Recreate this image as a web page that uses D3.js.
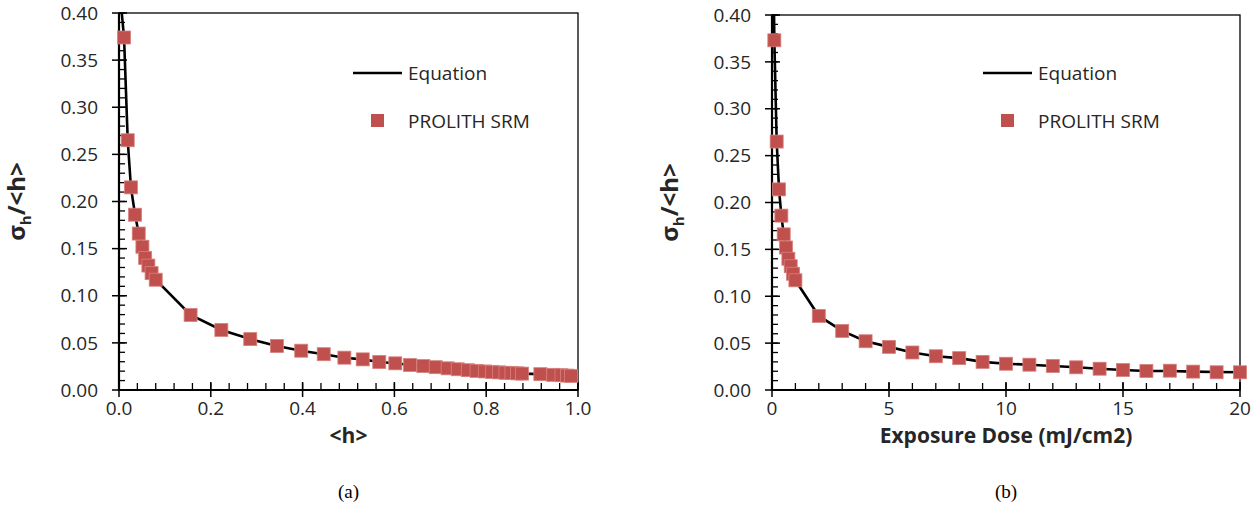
<!DOCTYPE html>
<html>
<head>
<meta charset="utf-8">
<script src="https://cdn.jsdelivr.net/npm/d3@7"></script>
<style>
  body { margin: 0; background: #fff; }
  text { font-family: "Open Sans", sans-serif; fill: #262626; }
</style>
</head>
<body>
<script>

// panel (a): sigma_h/<h> versus <h>
const hValues = [0.011, 0.019, 0.026, 0.035, 0.043, 0.051, 0.057, 0.064, 0.071, 0.080,
  0.156, 0.223, 0.286, 0.344, 0.397, 0.446, 0.491, 0.531, 0.567, 0.602, 0.634, 0.663,
  0.690, 0.716, 0.738, 0.760, 0.779, 0.797, 0.813, 0.828, 0.842, 0.855, 0.867, 0.878,
  0.918, 0.946, 0.964, 0.976, 0.985];
const hRatio = [0.374, 0.265, 0.215, 0.186, 0.166, 0.152, 0.140, 0.132, 0.124, 0.117,
  0.0796, 0.0637, 0.054, 0.0467, 0.0417, 0.038, 0.0343, 0.0325, 0.0297, 0.0283, 0.0265, 0.0254,
  0.0242, 0.0230, 0.0220, 0.0210, 0.0203, 0.0197, 0.0192, 0.0187, 0.0183, 0.0180, 0.0177, 0.0174,
  0.0168, 0.0161, 0.0157, 0.0153, 0.0150];
// equation curve (a)
const eqH = [0.006, 0.011, 0.019, 0.026, 0.035, 0.043, 0.051, 0.057, 0.064, 0.071, 0.080,
  0.156, 0.223, 0.286, 0.344, 0.397, 0.446, 0.491, 0.531, 0.567, 0.602, 0.634, 0.663,
  0.690, 0.716, 0.738, 0.760, 0.779, 0.797, 0.813, 0.828, 0.842, 0.855, 0.867, 0.878,
  0.918, 0.946, 0.964, 0.976, 0.985];
const eqHRatio = [0.40, 0.374, 0.265, 0.215, 0.186, 0.166, 0.152, 0.140, 0.132, 0.124, 0.117,
  0.0796, 0.0637, 0.054, 0.0467, 0.0417, 0.038, 0.0343, 0.0325, 0.0297, 0.0283, 0.0265, 0.0254,
  0.0242, 0.0230, 0.0220, 0.0210, 0.0203, 0.0197, 0.0192, 0.0187, 0.0183, 0.0180, 0.0177, 0.0174,
  0.0168, 0.0161, 0.0157, 0.0153, 0.0150];

// panel (b): sigma_h/<h> versus exposure dose
const doseValues = [0.1, 0.2, 0.3, 0.4, 0.5, 0.6, 0.7, 0.8, 0.9, 1.0,
  2, 3, 4, 5, 6, 7, 8, 9, 10, 11, 12, 13, 14, 15, 16, 17, 18, 19, 20];
const doseRatio = [0.373, 0.265, 0.214, 0.186, 0.166, 0.152, 0.140, 0.132, 0.124, 0.117,
  0.079, 0.063, 0.052, 0.046, 0.040, 0.036, 0.034, 0.030, 0.028, 0.027,
  0.0256, 0.0242, 0.0227, 0.0213, 0.0203, 0.0206, 0.0196, 0.0189, 0.0189];
// equation curve (b)
const eqDose = [0.087, 0.1, 0.2, 0.3, 0.4, 0.5, 0.6, 0.7, 0.8, 0.9, 1.0,
  2, 3, 4, 5, 6, 7, 8, 9, 10, 11, 12, 13, 14, 15, 16, 17, 18, 19, 20];
const eqDoseRatio = [0.40, 0.373, 0.265, 0.214, 0.186, 0.166, 0.152, 0.140, 0.132, 0.124, 0.117,
  0.079, 0.063, 0.052, 0.046, 0.040, 0.036, 0.034, 0.030, 0.028, 0.027,
  0.0256, 0.0242, 0.0227, 0.0213, 0.0203, 0.0202, 0.0196, 0.0192, 0.0189];

// tick labels
const yTicks = [0, 0.05, 0.10, 0.15, 0.20, 0.25, 0.30, 0.35, 0.40];
const hTicks = [0, 0.2, 0.4, 0.6, 0.8, 1.0];
const doseTicks = [0, 5, 10, 15, 20];

const seriesNames = ["Equation", "PROLITH SRM"];
const markerColor = "#c0504d";

const width = 1260, height = 511;
const svg = d3.select("body").append("svg")
  .attr("width", width)
  .attr("height", height);

const panels = [
  { id: "a", left: 119, right: 578, top: 13, bottom: 390,
    xDomain: [0, 1], xTicks: hTicks, xFormat: d3.format(".1f"), xMinor: 0.04,
    pts: hValues.map((x, i) => [x, hRatio[i]]),
    eq: eqH.map((x, i) => [x, eqHRatio[i]]),
    xTitle: "<h>", caption: "(a)", legX: 353 },
  { id: "b", left: 772, right: 1240, top: 15, bottom: 390,
    xDomain: [0, 20], xTicks: doseTicks, xFormat: d3.format("d"), xMinor: 1,
    pts: doseValues.map((x, i) => [x, doseRatio[i]]),
    eq: eqDose.map((x, i) => [x, eqDoseRatio[i]]),
    xTitle: "Exposure Dose (mJ/cm2)", caption: "(b)", legX: 983 }
];

panels.forEach(function(p) {
  const x = d3.scaleLinear().domain(p.xDomain).range([p.left, p.right]);
  const y = d3.scaleLinear().domain([0, 0.4]).range([p.bottom, p.top]);
  const g = svg.append("g");

  // plot area border (top / right)
  g.append("rect")
    .attr("x", p.left).attr("y", p.top)
    .attr("width", p.right - p.left).attr("height", p.bottom - p.top)
    .attr("fill", "none").attr("stroke", "#000").attr("stroke-width", 1.3);

  // minor ticks, inside
  const yMinor = d3.range(0, 0.4001, 0.01);
  g.selectAll(".yminor").data(yMinor).enter().append("line")
    .attr("x1", p.left).attr("x2", p.left + 6)
    .attr("y1", d => y(d)).attr("y2", d => y(d))
    .attr("stroke", "#000").attr("stroke-width", 1.3);
  const xMinor = d3.range(p.xDomain[0], p.xDomain[1] + p.xMinor / 2, p.xMinor);
  g.selectAll(".xminor").data(xMinor).enter().append("line")
    .attr("x1", d => x(d)).attr("x2", d => x(d))
    .attr("y1", p.bottom).attr("y2", p.bottom - 7)
    .attr("stroke", "#000").attr("stroke-width", 1.3);

  // major ticks, crossing
  g.selectAll(".ymajor").data(yTicks).enter().append("line")
    .attr("x1", p.left - 7).attr("x2", p.left + 8)
    .attr("y1", d => y(d)).attr("y2", d => y(d))
    .attr("stroke", "#000").attr("stroke-width", 1.5);
  g.selectAll(".xmajor").data(p.xTicks).enter().append("line")
    .attr("x1", d => x(d)).attr("x2", d => x(d))
    .attr("y1", p.bottom - 8).attr("y2", p.bottom + 7)
    .attr("stroke", "#000").attr("stroke-width", 1.5);

  // axis lines
  g.append("line").attr("x1", p.left).attr("x2", p.left)
    .attr("y1", p.top).attr("y2", p.bottom + 1)
    .attr("stroke", "#000").attr("stroke-width", 2.2);
  g.append("line").attr("x1", p.left - 1).attr("x2", p.right)
    .attr("y1", p.bottom).attr("y2", p.bottom)
    .attr("stroke", "#000").attr("stroke-width", 2.2);

  // tick labels
  g.selectAll(".ylab").data(yTicks).enter().append("text")
    .attr("x", p.left - 21).attr("y", d => y(d))
    .attr("dy", "0.35em").attr("text-anchor", "end")
    .style("font-size", "19px")
    .text(d => d3.format(".2f")(d));
  g.selectAll(".xlab").data(p.xTicks).enter().append("text")
    .attr("x", d => x(d)).attr("y", p.bottom + 25)
    .attr("text-anchor", "middle")
    .style("font-size", "19px")
    .text(d => p.xFormat(d));

  // axis titles
  const yt = g.append("text")
    .attr("transform", "translate(" + (p.left - 94) + "," + ((p.top + p.bottom) / 2) + ") rotate(-90)")
    .attr("text-anchor", "middle")
    .style("font-size", "24px").style("font-weight", "bold");
  yt.append("tspan").text("σ");
  yt.append("tspan").attr("dy", 6).style("font-size", "15px").text("h");
  yt.append("tspan").attr("dy", -6).text("/<h>");

  g.append("text")
    .attr("x", (p.left + p.right) / 2).attr("y", p.bottom + 53)
    .attr("text-anchor", "middle")
    .style("font-size", "21px").style("font-weight", "bold")
    .text(p.xTitle);

  g.append("text")
    .attr("x", (p.left + p.right) / 2).attr("y", p.bottom + 108)
    .attr("text-anchor", "middle")
    .style("font-family", "'Liberation Serif', serif").style("font-size", "19px").style("fill", "#000")
    .text(p.caption);

  // clip for curve
  svg.append("clipPath").attr("id", "clip-" + p.id)
    .append("rect")
    .attr("x", p.left).attr("y", p.top)
    .attr("width", p.right - p.left).attr("height", p.bottom - p.top);

  const line = d3.line().x(d => x(d[0])).y(d => y(d[1]));
  g.append("path")
    .datum(p.eq)
    .attr("clip-path", "url(#clip-" + p.id + ")")
    .attr("d", line)
    .attr("fill", "none").attr("stroke", "#000").attr("stroke-width", 2.6);

  // markers
  const s = 13;
  g.selectAll(".pt").data(p.pts).enter().append("rect")
    .attr("x", d => x(d[0]) - s / 2).attr("y", d => y(d[1]) - s / 2)
    .attr("width", s).attr("height", s)
    .attr("fill", markerColor).attr("stroke", "#d7817e").attr("stroke-width", 0.8);

  // legend
  g.append("line")
    .attr("x1", p.legX).attr("x2", p.legX + 49)
    .attr("y1", 73).attr("y2", 73)
    .attr("stroke", "#000").attr("stroke-width", 2.6);
  g.append("text").attr("x", p.legX + 55).attr("y", 73).attr("dy", "0.35em")
    .style("font-size", "19px").text(seriesNames[0]);
  g.append("rect")
    .attr("x", p.legX + 18).attr("y", 114).attr("width", 13).attr("height", 13)
    .attr("fill", markerColor);
  g.append("text").attr("x", p.legX + 55).attr("y", 121).attr("dy", "0.35em")
    .style("font-size", "19px").text(seriesNames[1]);
});

</script>
</body>
</html>
